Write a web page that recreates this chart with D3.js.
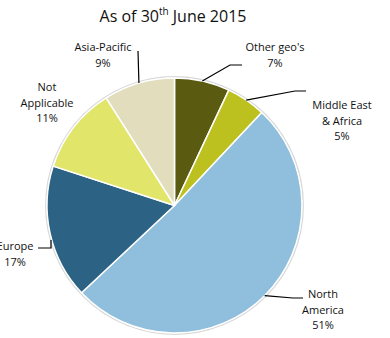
<!DOCTYPE html>
<html><head><meta charset="utf-8">
<script src="https://cdnjs.cloudflare.com/ajax/libs/d3/7.8.5/d3.min.js"></script>
<style>body{margin:0;background:#fff;} text{font-family:"Open Sans","Liberation Sans",Arial,sans-serif;fill:#111;}</style>
</head><body>
<svg id="c" width="390" height="338"></svg>
<script>
const categories = ["Other geo's", "Middle East & Africa", "North America", "Europe", "Not Applicable", "Asia-Pacific"];
const values = [7, 5, 51, 17, 11, 9];
const labelLines = [["Other geo's"], ["Middle East", "& Africa"], ["North", "America"], ["Europe"], ["Not", "Applicable"], ["Asia-Pacific"]];
const colors = ["#5a5b10", "#bcc11f", "#8fbfdc", "#2c6283", "#e1e56a", "#e1ddbd"];

// label layout (text centre x, first baseline y, leader elbow points)
const layout = [
  {x: 275, y: 51, leader: [[230, 65], [242, 65]]},
  {x: 342, y: 109, leader: [[295, 91], [306, 91]]},
  {x: 323, y: 298, leader: [[293, 298], [303, 298]]},
  {x: 15, y: 250, leader: [[51, 248], [38, 248]], anchor: [51, 240]},
  {x: 47, y: 91, leader: null},
  {x: 103, y: 51, leader: [[138, 51]]}
];

const svg = d3.select("#c");
const cx = 174.5, cy = 205.5, R = 127.5;

const title = svg.append("text").attr("x", 173).attr("y", 22).attr("text-anchor", "middle").attr("font-size", 16);
title.append("tspan").text("As of 30");
title.append("tspan").text("th").attr("font-size", 10).attr("dy", -7);
title.append("tspan").text(" June 2015").attr("dy", 7);

const data = categories.map((c, i) => ({cat: c, value: values[i], i}));
const pie = d3.pie().value(d => d.value).sort(null);
const arcs = pie(data);
const arc = d3.arc().innerRadius(0).outerRadius(R);
const g = svg.append("g").attr("transform", `translate(${cx},${cy})`);

g.append("circle").attr("r", R + 1.2).attr("fill", "none").attr("stroke", "#d8d8d8").attr("stroke-width", 1.5);
g.selectAll("path.s").data(arcs).join("path").attr("class", "s")
  .attr("d", arc).attr("fill", (d, i) => colors[i])
  .attr("stroke", "#fff").attr("stroke-width", 1.5).attr("stroke-linejoin", "round");

const total = d3.sum(values);
arcs.forEach((a, i) => {
  const L = layout[i];
  const mid = (a.startAngle + a.endAngle) / 2;
  if (L.leader) {
    let start = L.anchor ? L.anchor : [cx + R * Math.sin(mid), cy - R * Math.cos(mid)];
    const pts = [start].concat(L.leader);
    svg.append("path").attr("d", d3.line()(pts)).attr("fill", "none").attr("stroke", "#000").attr("stroke-width", 1.2);
  }
  const lines = labelLines[i].concat([Math.round(values[i] / total * 100) + "%"]);
  const t = svg.append("text").attr("text-anchor", "middle").attr("font-size", 11);
  lines.forEach((ln, k) => t.append("tspan").attr("x", L.x).attr("y", L.y + k * 15.7).text(ln));
});
</script>
</body></html>
